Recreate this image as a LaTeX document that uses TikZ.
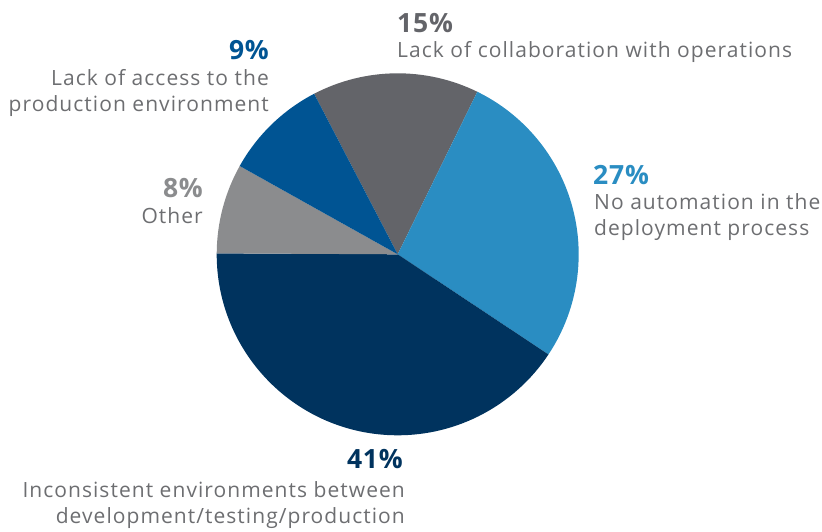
\documentclass[tikz,border=0pt]{standalone}
\usepackage{fontspec}
\setmainfont{Open Sans}
\newfontfamily\lblfont[LetterSpace=5.0]{Open Sans}
\newfontfamily\pctfont[LetterSpace=3]{Open Sans}
\definecolor{cgraydark}{HTML}{636469}
\definecolor{clightblue}{HTML}{2A8DC2}
\definecolor{cnavy}{HTML}{00335E}
\definecolor{cgraylight}{HTML}{8B8C8E}
\definecolor{cblue}{HTML}{005493}
\definecolor{ctext}{HTML}{6D6E71}
\tikzset{
  pct/.style={inner sep=0pt, font=\pctfont\fontsize{26.5}{30}\selectfont\bfseries},
  lbl/.style={inner sep=0pt, text=ctext, font=\lblfont\fontsize{21}{25}\selectfont},
}
\begin{document}
\begin{tikzpicture}[x=1pt,y=-1pt]
\useasboundingbox (0,0) rectangle (822,531);
\coordinate (c) at (397.7,254.3);
\def\R{181}
\newcommand\myslice[3]{\fill[#3] (c) -- ++(#1:\R pt) arc[start angle=#1, end angle=#2, radius=\R pt] -- cycle;}
\begin{scope}[y=1pt]
\myslice{63.9}{117.5}{cgraydark}
\myslice{-33.6}{63.9}{clightblue}
\myslice{-180.3}{-33.6}{cnavy}
\myslice{150.8}{179.7}{cgraylight}
\myslice{117.5}{150.8}{cblue}
\end{scope}
% 15%
\node[pct, text=cgraydark, anchor=base west] (p15) at (397,32) {15\%};
\node[lbl, anchor=base west] (l15) at (397,57.5) {Lack of collaboration with operations};
% 9%
\node[pct, text=cblue, anchor=base east] (p9) at (269,59) {9\%};
\node[lbl, anchor=base east] (l9a) at (269,85) {Lack of access to the};
\node[lbl, anchor=base east] (l9b) at (269,111) {production environment};
% 27%
\node[pct, text=clightblue, anchor=base west] (p27) at (593,184) {27\%};
\node[lbl, anchor=base west] (l27a) at (594,209) {No automation in the};
\node[lbl, anchor=base west] (l27b) at (594,235) {deployment process};
% 8%
\node[pct, text=cgraylight, anchor=base east] (p8) at (203,197) {8\%};
\node[lbl, anchor=base east] (l8) at (203,223) {Other};
% 41%
\node[pct, text=cnavy, anchor=base east] (p41) at (403,468) {41\%};
\node[lbl, anchor=base east] (l41a) at (405,497) {Inconsistent environments between};
\node[lbl, anchor=base east] (l41b) at (405,523) {development/testing/production};
\end{tikzpicture}
\end{document}
